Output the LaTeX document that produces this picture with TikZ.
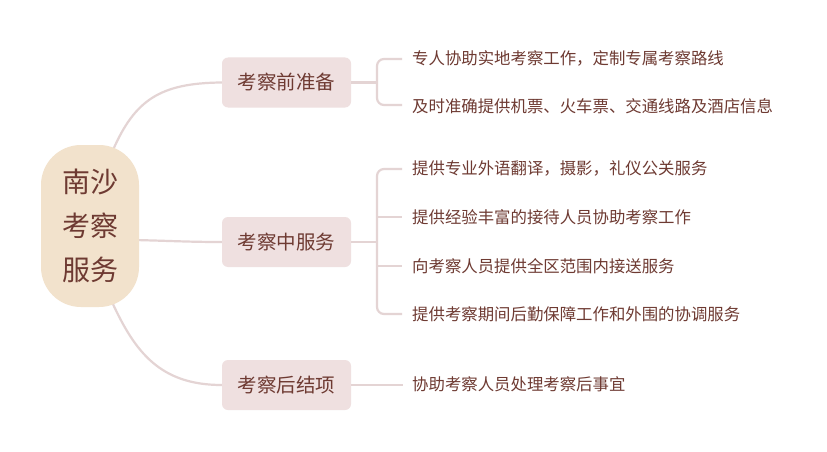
\documentclass[tikz,border=0pt]{standalone}
\usepackage{fontspec}
\setmainfont{Noto Sans CJK SC}
\definecolor{txt}{RGB}{110,58,50}
\definecolor{rootfill}{RGB}{242,226,204}
\definecolor{brfill}{RGB}{239,224,224}
\definecolor{ln}{RGB}{228,212,212}
\tikzset{
  rootbox/.style={fill=rootfill, rounded corners=40pt, minimum width=98pt, minimum height=162pt, inner sep=0pt, text=txt, align=center, font=\fontsize{28}{44}\selectfont},
  brbox/.style={fill=brfill, rounded corners=6pt, minimum width=129pt, minimum height=50pt, inner sep=0pt, text=txt, font=\fontsize{19.5}{20}\selectfont},
  leaf/.style={anchor=west, inner sep=0pt, text=txt, font=\fontsize{16.4}{18}\selectfont},
  conn/.style={draw=ln, line width=2.2pt},
  brk/.style={draw=ln, line width=2.2pt, rounded corners=7pt},
}
\begin{document}
\begin{tikzpicture}[x=1pt,y=-1pt]
\useasboundingbox (0,0) rectangle (827,452);
\fill[white] (0,0) rectangle (827,452);
% root connectors (drawn first, behind boxes)
\coordinate (rt) at (113,150);
\coordinate (rr) at (135,240);
\coordinate (rb) at (112,302);
\node[brbox] (b1) at (286.5,82.5) {考察前准备};
\node[brbox] (b2) at (286.5,242) {考察中服务};
\node[brbox] (b3) at (286.5,385) {考察后结项};
\draw[conn] (rt) .. controls (135,100) and (160,83) .. (b1.west);
\draw[conn] (rr) .. controls (175,241) and (190,242) .. (b2.west);
\draw[conn] (rb) .. controls (135,352) and (160,385) .. (b3.west);
\node[rootbox] (root) at (90,226) {南沙\\考察\\服务};
% leaves
\node[leaf] (l1) at (412,58) {专人协助实地考察工作，定制专属考察路线};
\node[leaf] (l2) at (412,106) {及时准确提供机票、火车票、交通线路及酒店信息};
\node[leaf] (l3) at (412,168) {提供专业外语翻译，摄影，礼仪公关服务};
\node[leaf] (l4) at (412,217) {提供经验丰富的接待人员协助考察工作};
\node[leaf] (l5) at (412,266) {向考察人员提供全区范围内接送服务};
\node[leaf] (l6) at (412,314) {提供考察期间后勤保障工作和外围的协调服务};
\node[leaf] (l7) at (412,384) {协助考察人员处理考察后事宜};
% brackets
\coordinate (j1) at (377,82.5);
\coordinate (j2) at (377,242);
\coordinate (a1) at (402,59);
\coordinate (a2) at (402,105);
\coordinate (a3) at (402,169);
\coordinate (a4) at (402,217);
\coordinate (a5) at (402,266);
\coordinate (a6) at (402,314);
\coordinate (a7) at (403,385);
\draw[conn] (b1.east) -- (j1);
\draw[brk] (a1) -- (j1 |- a1) -- (j1 |- a2) -- (a2);
\draw[conn] (b2.east) -- (j2);
\draw[brk] (a3) -- (j2 |- a3) -- (j2 |- a6) -- (a6);
\draw[brk] (j2 |- a4) -- (a4);
\draw[brk] (j2 |- a5) -- (a5);
\draw[conn] (b3.east) -- (a7);
\end{tikzpicture}
\end{document}
